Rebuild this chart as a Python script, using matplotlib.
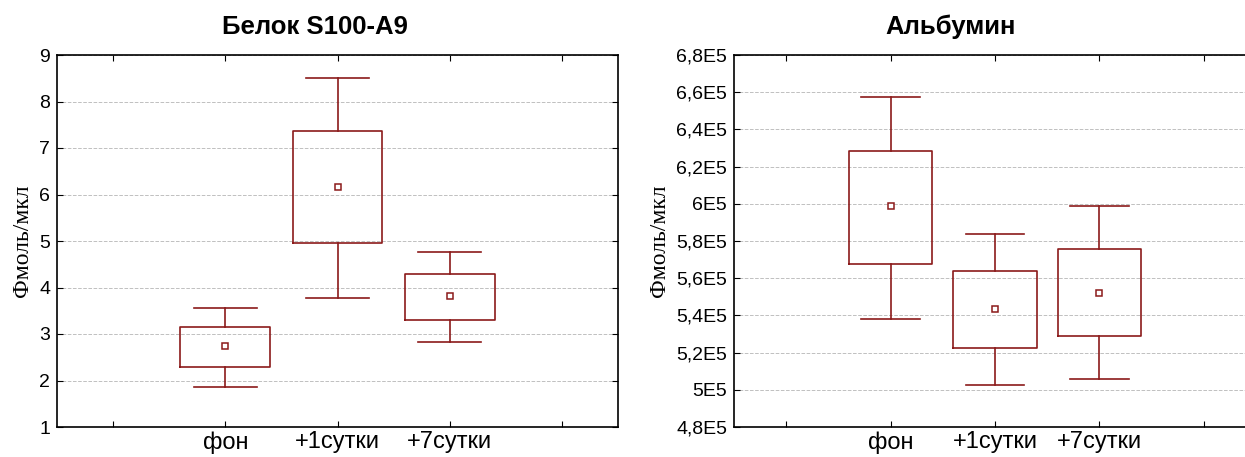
import matplotlib
matplotlib.use("Agg")
import matplotlib.pyplot as plt
from matplotlib.ticker import FuncFormatter, MultipleLocator

plt.rcParams['font.family'] = ['Liberation Sans', 'DejaVu Sans']

# categories
cats = ['фон', '+1сутки', '+7сутки']

# Белок S100-A9
s100_mean = [2.74, 6.17, 3.81]
s100_q1 = [2.28, 4.95, 3.31]
s100_q3 = [3.14, 7.36, 4.29]
s100_lo = [1.86, 3.78, 2.83]
s100_hi = [3.56, 8.51, 4.77]

# Альбумин
alb_mean = [5.986e5, 5.437e5, 5.523e5]
alb_q1 = [5.674e5, 5.223e5, 5.288e5]
alb_q3 = [6.282e5, 5.639e5, 5.758e5]
alb_lo = [5.381e5, 5.024e5, 5.058e5]
alb_hi = [6.576e5, 5.837e5, 5.986e5]

RED = '#8b1a1a'
W, H = 1245, 457

fig = plt.figure(figsize=(W / 100, H / 100), dpi=100)


def make_stats(mean, q1, q3, lo, hi):
    out = []
    for m, a, b, l, h in zip(mean, q1, q3, lo, hi):
        out.append(dict(mean=m, med=m, q1=a, q3=b, whislo=l, whishi=h, fliers=[]))
    return out


def panel(rect, stats, ylim, ystep, fmt, title, title_x):
    ax = fig.add_axes(rect)
    ax.bxp(stats, positions=[1, 2, 3], widths=0.8, capwidths=0.56,
           showmeans=True, showfliers=False,
           boxprops=dict(color=RED, lw=1.2),
           whiskerprops=dict(color=RED, lw=1.2),
           capprops=dict(color=RED, lw=1.2),
           medianprops=dict(lw=0),
           meanprops=dict(marker='s', markersize=4.5, markerfacecolor='white',
                          markeredgecolor=RED, markeredgewidth=1.1))
    ax.set_xlim(-0.5, 4.5)
    ax.set_ylim(*ylim)
    ax.set_xticks([0, 1, 2, 3, 4])
    ax.set_xticklabels([''] + cats + [''], fontsize=17)
    ax.yaxis.set_major_locator(MultipleLocator(ystep))
    ax.yaxis.set_major_formatter(FuncFormatter(fmt))
    ax.tick_params(axis='y', labelsize=14, direction='in', length=4, right=True, pad=5)
    ax.tick_params(axis='x', direction='in', length=4, top=True, pad=3)
    ax.grid(axis='y', color='#c0c0c0', ls='--', lw=0.7)
    ax.set_axisbelow(True)
    for s in ax.spines.values():
        s.set_linewidth(1.2)
    ax.set_ylabel('Фмоль/мкл', family='Liberation Serif', fontsize=17, labelpad=4)
    fig.text(title_x, 1 - 27 / H, title, ha='center', va='center',
             fontsize=18.5, fontweight='bold')
    return ax


panel([57 / W, 30 / H, 561 / W, 372 / H],
      make_stats(s100_mean, s100_q1, s100_q3, s100_lo, s100_hi),
      (1, 9), 1, lambda v, p: f'{v:g}', 'Белок S100-A9', 315 / W)

panel([734 / W, 30 / H, 522 / W, 372 / H],
      make_stats(alb_mean, alb_q1, alb_q3, alb_lo, alb_hi),
      (4.8e5, 6.8e5), 0.2e5,
      lambda v, p: f'{round(v / 1e5, 2):g}'.replace('.', ',') + 'E5',
      'Альбумин', 951 / W)

fig.savefig('out.png', dpi=100)
